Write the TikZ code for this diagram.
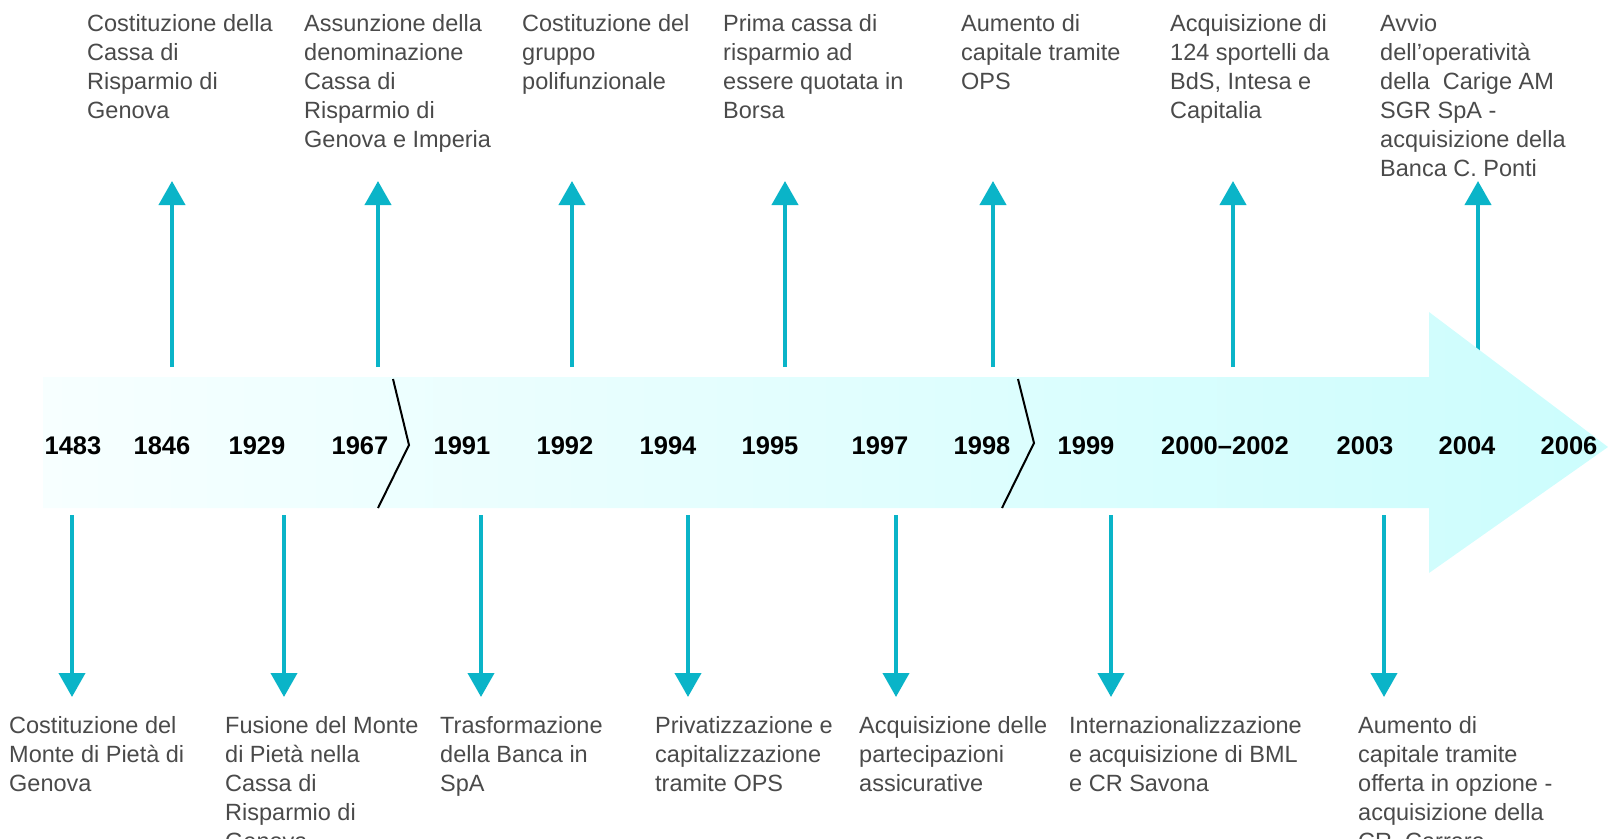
\documentclass[tikz,border=0pt]{standalone}
\usepackage{fontspec}
\setmainfont{Liberation Sans}
\usepackage{tikz}
\usetikzlibrary{arrows.meta}

\definecolor{evteal}{HTML}{0AB4C8}
\definecolor{evtext}{HTML}{4A4A4A}
\definecolor{bandleft}{HTML}{F7FFFF}
\definecolor{bandright}{HTML}{CCFDFD}

\tikzset{
  year/.style={anchor=base, inner sep=0pt, font=\fontsize{25.5}{30}\selectfont\bfseries},
  event/.style={anchor=north west, align=left, inner sep=0pt, text=evtext, font=\fontsize{23.5}{29}\selectfont},
  evarrow/.style={draw=evteal, line width=4pt, -{Triangle[width=26pt,length=24pt]}},
  breakline/.style={line width=2pt}
}

\begin{document}
\begin{tikzpicture}[x=1pt,y=-1pt]
        \useasboundingbox (0,0) rectangle (1608,838);
        \coordinate (uptip) at (0,181);
        \coordinate (dntip) at (0,697);

        % events above the band
        \node (e1846) [event] at (87,14) {Costituzione della\\Cassa di\\Risparmio di\\Genova};
        \coordinate (a1846) at (172,367);
        \draw [evarrow] (a1846) -- (a1846 |- uptip);
        \node (e1967) [event] at (304,14) {Assunzione della\\denominazione\\Cassa di\\Risparmio di\\Genova e Imperia};
        \coordinate (a1967) at (378,367);
        \draw [evarrow] (a1967) -- (a1967 |- uptip);
        \node (e1992) [event] at (522,14) {Costituzione del\\gruppo\\polifunzionale};
        \coordinate (a1992) at (572,367);
        \draw [evarrow] (a1992) -- (a1992 |- uptip);
        \node (e1995) [event] at (723,14) {Prima cassa di\\risparmio ad\\essere quotata in\\Borsa};
        \coordinate (a1995) at (785,367);
        \draw [evarrow] (a1995) -- (a1995 |- uptip);
        \node (e1998) [event] at (961,14) {Aumento di\\capitale tramite\\OPS};
        \coordinate (a1998) at (993,367);
        \draw [evarrow] (a1998) -- (a1998 |- uptip);
        \node (e2000) [event] at (1170,14) {Acquisizione di\\124 sportelli da\\BdS, Intesa e\\Capitalia};
        \coordinate (a2000) at (1233,367);
        \draw [evarrow] (a2000) -- (a2000 |- uptip);
        \node (e2004) [event] at (1380,14) {Avvio\\dell’operatività\\della~ Carige AM\\SGR SpA -\\acquisizione della\\Banca C. Ponti};
        \coordinate (a2004) at (1478,367);
        \draw [evarrow] (a2004) -- (a2004 |- uptip);

        % events below the band
        \node (e1483) [event] at (9,716) {Costituzione del\\Monte di Pietà di\\Genova};
        \coordinate (a1483) at (72,515);
        \draw [evarrow] (a1483) -- (a1483 |- dntip);
        \node (e1929) [event] at (225,716) {Fusione del Monte\\di Pietà nella\\Cassa di\\Risparmio di\\Genova};
        \coordinate (a1929) at (284,515);
        \draw [evarrow] (a1929) -- (a1929 |- dntip);
        \node (e1991) [event] at (440,716) {Trasformazione\\della Banca in\\SpA};
        \coordinate (a1991) at (481,515);
        \draw [evarrow] (a1991) -- (a1991 |- dntip);
        \node (e1994) [event] at (655,716) {Privatizzazione e\\capitalizzazione\\tramite OPS};
        \coordinate (a1994) at (688,515);
        \draw [evarrow] (a1994) -- (a1994 |- dntip);
        \node (e1997) [event] at (859,716) {Acquisizione delle\\partecipazioni\\assicurative};
        \coordinate (a1997) at (896,515);
        \draw [evarrow] (a1997) -- (a1997 |- dntip);
        \node (e1999) [event] at (1069,716) {Internazionalizzazione\\e acquisizione di BML\\e CR Savona};
        \coordinate (a1999) at (1111,515);
        \draw [evarrow] (a1999) -- (a1999 |- dntip);
        \node (e2003) [event] at (1358,716) {Aumento di\\capitale tramite\\offerta in opzione -\\acquisizione della\\CR~ Carrara};
        \coordinate (a2003) at (1384,515);
        \draw [evarrow] (a2003) -- (a2003 |- dntip);

        % the time band
        \path [left color=bandleft, right color=bandright] (43,377) -- (1429,377) -- (1429,312) -- (1608,447) -- (1429,573) -- (1429,508) -- (43,508) -- cycle;
        \draw [breakline] (393,379) -- (409,445) -- (378,508);
        \draw [breakline] (1018,379) -- (1034,443) -- (1002,508);

        \node (y1483) [year] at (73,454) {1483};
        \node (y1846) [year] at (162,454) {1846};
        \node (y1929) [year] at (257,454) {1929};
        \node (y1967) [year] at (360,454) {1967};
        \node (y1991) [year] at (462,454) {1991};
        \node (y1992) [year] at (565,454) {1992};
        \node (y1994) [year] at (668,454) {1994};
        \node (y1995) [year] at (770,454) {1995};
        \node (y1997) [year] at (880,454) {1997};
        \node (y1998) [year] at (982,454) {1998};
        \node (y1999) [year] at (1086,454) {1999};
        \node (y2000) [year] at (1225,454) {2000–2002};
        \node (y2003) [year] at (1365,454) {2003};
        \node (y2004) [year] at (1467,454) {2004};
        \node (y2006) [year] at (1569,454) {2006};
\end{tikzpicture}
\end{document}
